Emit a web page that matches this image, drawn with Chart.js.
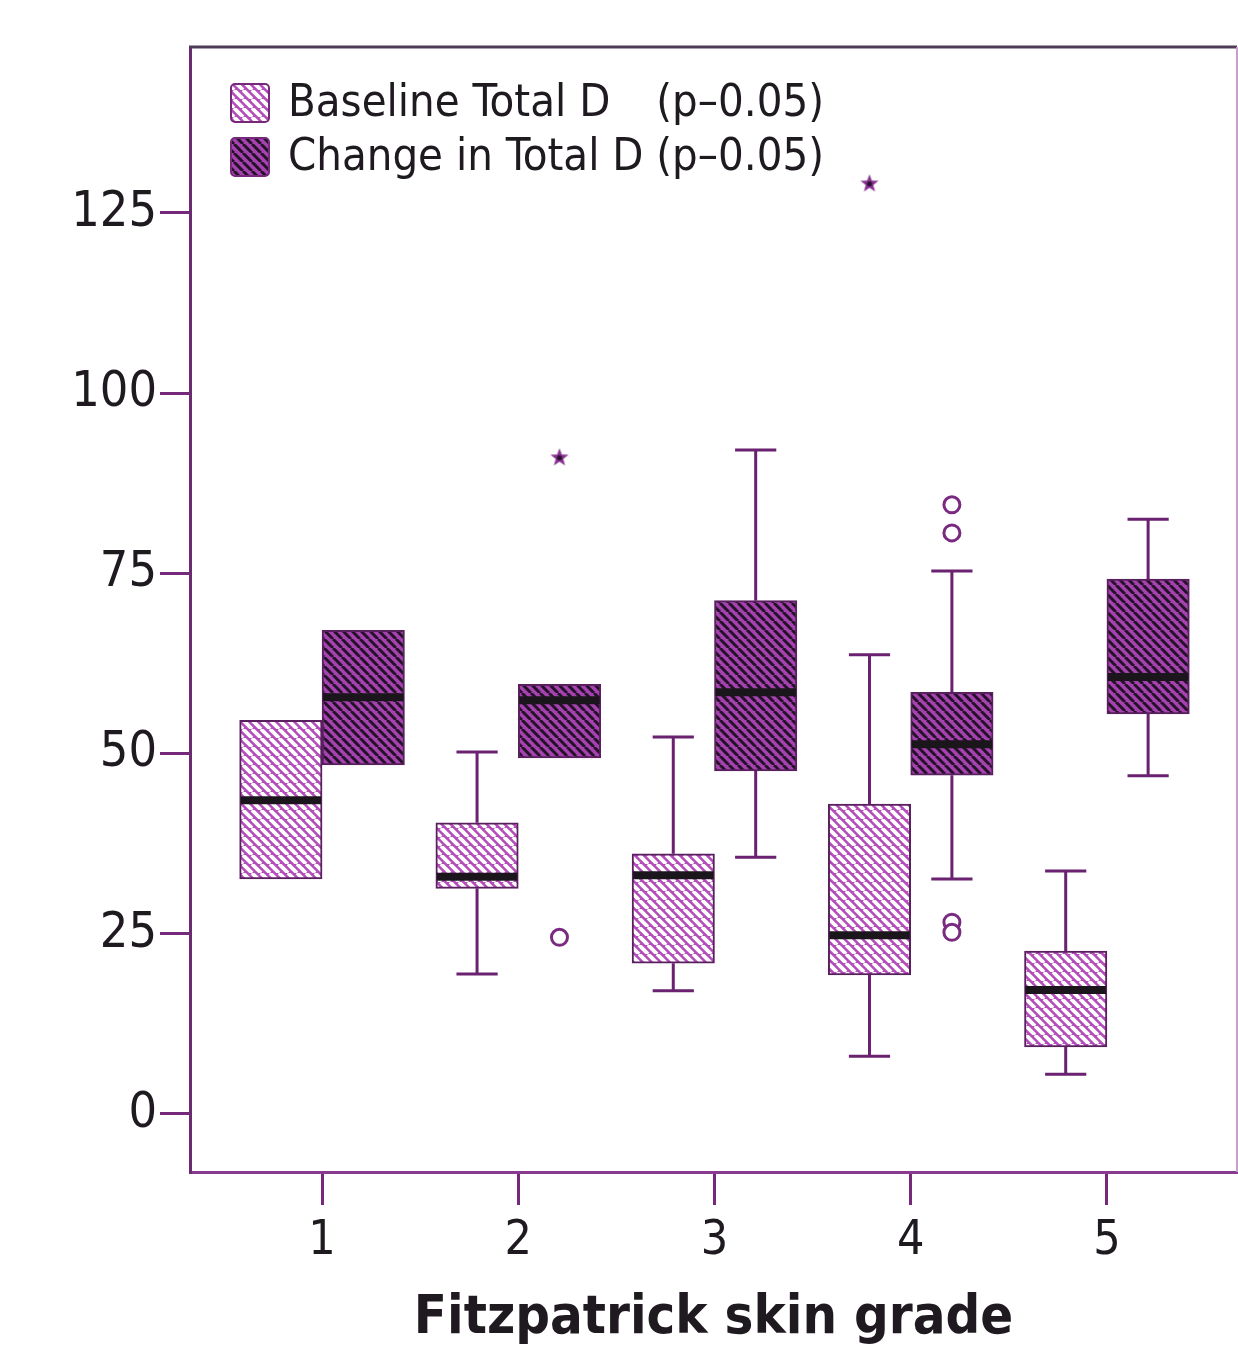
<!DOCTYPE html>
<html>
<head>
<meta charset="utf-8">
<title>Fitzpatrick skin grade</title>
<script src="https://cdn.jsdelivr.net/npm/chart.js@4.4.1/dist/chart.umd.min.js"></script>
<style>
  html, body { margin: 0; padding: 0; background: #fff; }
  #wrap { width: 1238px; height: 1351px; }
</style>
</head>
<body>
<div id="wrap"><canvas id="box" width="1238" height="1351"></canvas></div>
<script>
// x categories and y ticks
const grades = [1, 2, 3, 4, 5];
const yTicks = [0, 25, 50, 75, 100, 125];

// Baseline Total D - five number summary per grade
const baseMin = [32.6, 19.4, 17.1, 8.0, 5.5];
const baseQ1 = [32.6, 31.3, 20.9, 19.3, 9.3];
const baseMed = [43.5, 32.9, 33.1, 24.8, 17.2];
const baseQ3 = [54.6, 40.4, 36.1, 43.0, 22.6];
const baseMax = [54.6, 50.2, 52.3, 63.7, 33.7];

// Change in Total D
const chgMin = [48.4, 49.4, 35.6, 32.6, 46.9];
const chgQ1 = [48.4, 49.4, 47.6, 47.0, 55.5];
const chgMed = [57.8, 57.4, 58.5, 51.3, 60.6];
const chgQ3 = [67.1, 59.6, 71.2, 58.5, 74.2];
const chgMax = [67.1, 59.6, 92.1, 75.3, 82.5];

// outliers (grade, value)
const baseExtremeGrade = [4];
const baseExtremeVal = [129.1];
const chgExtremeGrade = [2];
const chgExtremeVal = [91.1];
const chgOutGrade = [2, 4, 4, 4, 4];
const chgOutVal = [24.5, 84.5, 80.6, 26.6, 25.2];

const legendLabels = ['Baseline Total D', 'Change in Total D'];
const legendNote = '(p\u20130.05)';

const PURPLE = '#76297b';
const EDGE = '#5a1f5f';
const TEXT = '#1e1a20';
const FONT = '"DejaVu Sans Condensed", "DejaVu Sans", sans-serif';
const OFF = 0.21;

const canvas = document.getElementById('box');
const mainCtx = canvas.getContext('2d');

function hatch(bg, fg, lw) {
    const t = 9;
    const c = document.createElement('canvas');
    c.width = c.height = t;
    const g = c.getContext('2d');
    g.fillStyle = bg;
    g.fillRect(0, 0, t, t);
    g.strokeStyle = fg;
    g.lineWidth = lw;
    g.beginPath();
    [-t, 0, t].forEach(s => { g.moveTo(s, 0); g.lineTo(s + t, t); });
    g.stroke();
    return mainCtx.createPattern(c, 'repeat');
}

function starImg() {
    const c = document.createElement('canvas');
    c.width = c.height = 20;
    const g = c.getContext('2d');
    g.beginPath();
    for (let i = 0; i < 10; i++) {
        const r = i % 2 ? 4 : 9.5;
        const a = -Math.PI / 2 + i * Math.PI / 5;
        g.lineTo(10 + r * Math.cos(a), 10.5 + r * Math.sin(a));
    }
    g.closePath();
    g.fillStyle = '#8a3292';
    g.fill();
    g.fillStyle = '#2a1230';
    g.beginPath();
    g.arc(10, 10.5, 2.6, 0, Math.PI * 2);
    g.fill();
    return c;
}

const baseFill = hatch('#b44cbb', '#ffffff', 3.8);
const chgFill = hatch('#a642af', '#241228', 3);
const star = starImg();

const series = [
    { ds: 0, off: -OFF, min: baseMin, q1: baseQ1, med: baseMed, q3: baseQ3, max: baseMax },
    { ds: 1, off: OFF, min: chgMin, q1: chgQ1, med: chgMed, q3: chgQ3, max: chgMax }
];

// whiskers, caps, medians and the top/right frame
const boxPlugin = {
    id: 'boxParts',
    afterDatasetsDraw(chart) {
        const { ctx, chartArea: a, scales: { x, y } } = chart;
        ctx.save();
        series.forEach(s => {
            const meta = chart.getDatasetMeta(s.ds);
            grades.forEach((g, i) => {
                const cx = x.getPixelForValue(g + s.off);
                const w = meta.data[i].width;
                ctx.strokeStyle = '#6a2170';
                ctx.lineWidth = 3;
                [[s.q3[i], s.max[i]], [s.q1[i], s.min[i]]].forEach(([from, to]) => {
                    if (from === to) return;
                    const yt = y.getPixelForValue(to);
                    ctx.beginPath();
                    ctx.moveTo(cx, y.getPixelForValue(from));
                    ctx.lineTo(cx, yt);
                    ctx.moveTo(cx - w / 4, yt);
                    ctx.lineTo(cx + w / 4, yt);
                    ctx.stroke();
                });
                const ym = y.getPixelForValue(s.med[i]);
                ctx.strokeStyle = '#1b161c';
                ctx.lineWidth = 8;
                ctx.beginPath();
                ctx.moveTo(cx - w / 2 + 1, ym);
                ctx.lineTo(cx + w / 2 - 1, ym);
                ctx.stroke();
            });
        });
        ctx.lineWidth = 3;
        ctx.strokeStyle = '#4d3c55';
        ctx.beginPath();
        ctx.moveTo(a.left - 1, a.top);
        ctx.lineTo(a.right, a.top);
        ctx.stroke();
        ctx.lineWidth = 2;
        ctx.strokeStyle = '#c99fce';
        ctx.beginPath();
        ctx.moveTo(a.right, a.top);
        ctx.lineTo(a.right, a.bottom);
        ctx.stroke();
        ctx.restore();
    }
};

// legend sits inside the plot, top-left
const legendPlugin = {
    id: 'innerLegend',
    afterDraw(chart) {
        const { ctx, chartArea: a } = chart;
        const fills = [baseFill, chgFill];
        ctx.save();
        ctx.font = '45px ' + FONT;
        ctx.textBaseline = 'middle';
        const noteX = a.left + 98 + ctx.measureText(legendLabels[1] + ' ').width;
        legendLabels.forEach((lbl, i) => {
            const bx = a.left + 41, by = a.top + 37 + i * 54;
            ctx.fillStyle = fills[i];
            ctx.beginPath();
            ctx.roundRect(bx, by, 38, 38, 4);
            ctx.fill();
            ctx.strokeStyle = PURPLE;
            ctx.lineWidth = 2;
            ctx.stroke();
            ctx.fillStyle = TEXT;
            ctx.fillText(lbl, a.left + 98, by + 20);
            ctx.fillText(legendNote, noteX, by + 20);
        });
        ctx.restore();
    }
};

const pts = (gs, vs, off) => gs.map((g, i) => ({ x: g + off, y: vs[i] }));

new Chart(canvas, {
    type: 'bar',
    data: {
        datasets: [
            {
                label: legendLabels[0],
                data: grades.map((g, i) => ({ x: g - OFF, y: [baseQ1[i], baseQ3[i]] })),
                backgroundColor: baseFill,
                borderColor: EDGE,
                borderWidth: 2,
                borderSkipped: false,
                grouped: false,
                categoryPercentage: 1,
                barPercentage: 1
            },
            {
                label: legendLabels[1],
                data: grades.map((g, i) => ({ x: g + OFF, y: [chgQ1[i], chgQ3[i]] })),
                backgroundColor: chgFill,
                borderColor: EDGE,
                borderWidth: 2,
                borderSkipped: false,
                grouped: false,
                categoryPercentage: 1,
                barPercentage: 1
            },
            {
                type: 'scatter',
                data: pts(chgOutGrade, chgOutVal, OFF),
                pointStyle: 'circle',
                pointRadius: 8,
                borderWidth: 3,
                borderColor: '#7a2b80',
                backgroundColor: '#ffffff'
            },
            {
                type: 'scatter',
                data: pts(baseExtremeGrade, baseExtremeVal, -OFF).concat(pts(chgExtremeGrade, chgExtremeVal, OFF)),
                pointStyle: star,
                pointRadius: 10
            }
        ]
    },
    options: {
        responsive: false,
        animation: false,
        layout: { autoPadding: false, padding: { top: 47, right: 1, left: 0, bottom: 0 } },
        plugins: { legend: { display: false }, tooltip: { enabled: false } },
        scales: {
            x: {
                type: 'linear',
                min: 0.327,
                max: 5.663,
                offset: false,
                afterBuildTicks: s => { s.ticks = grades.map(v => ({ value: v })); },
                afterFit: s => { s.height = 179; s.paddingLeft = 0; s.paddingRight = 0; },
                grid: { offset: false, drawOnChartArea: false, tickLength: 33, color: PURPLE, lineWidth: 3 },
                border: { color: '#8a3a90', width: 3 },
                ticks: { color: TEXT, font: { family: FONT, size: 48 }, padding: 8, maxRotation: 0 },
                title: {
                    display: true,
                    text: 'Fitzpatrick skin grade',
                    color: TEXT,
                    font: { family: FONT, size: 54, weight: 'bold' },
                    padding: { top: 0, bottom: 0 }
                }
            },
            y: {
                min: -8.05,
                max: 148,
                afterBuildTicks: s => { s.ticks = yTicks.map(v => ({ value: v })); },
                afterFit: s => { s.width = 190; },
                grid: { drawOnChartArea: false, tickLength: 30, color: PURPLE, lineWidth: 3 },
                border: { color: '#6c2a72', width: 3 },
                ticks: { color: TEXT, font: { family: FONT, size: 50 }, padding: 3 }
            }
        }
    },
    plugins: [boxPlugin, legendPlugin]
});
</script>
</body>
</html>
